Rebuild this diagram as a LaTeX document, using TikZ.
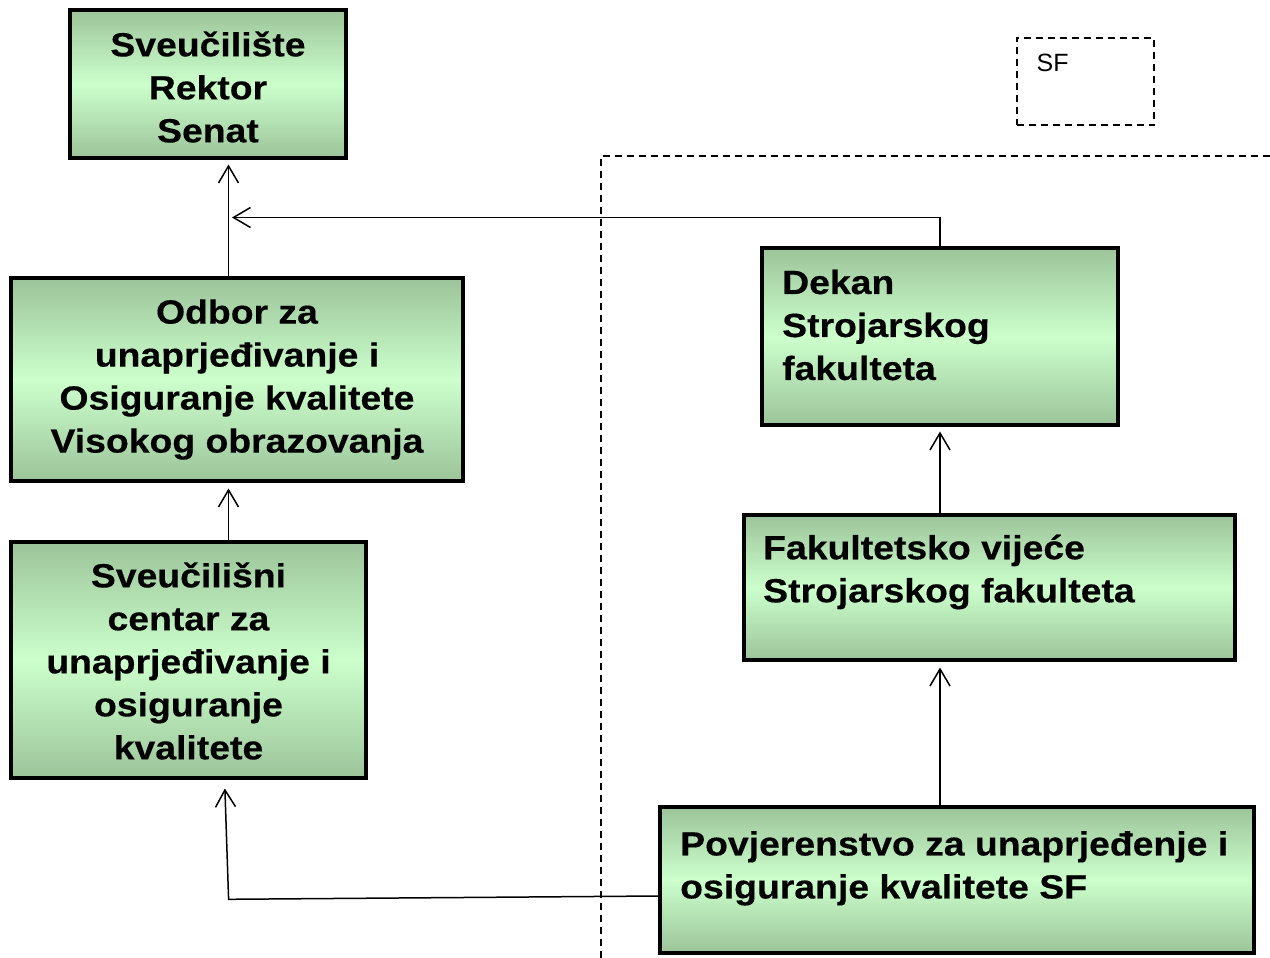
\documentclass[tikz,border=0pt]{standalone}
\usepackage{fontspec}
\newfontfamily\boxfont{Liberation Sans}[FakeStretch=1.115,FakeBold=0.4]
\newfontfamily\sffont{Liberation Sans}
\usetikzlibrary{arrows.meta,calc}
\definecolor{gdark}{HTML}{9CC49A}
\definecolor{glight}{HTML}{CCFFCC}
\begin{document}
\begin{tikzpicture}[x=1pt,y=-1pt,
  box/.style={draw=black, line width=4pt, top color=gdark, bottom color=gdark, middle color=glight,
    inner sep=0pt, align=center, font=\boxfont\bfseries\fontsize{33.5}{43}\selectfont},
  lbl/.style={inner sep=0pt, anchor=north west, align=left, font=\boxfont\bfseries\fontsize{33.5}{43}\selectfont},
  conn/.style={line width=1.5pt, -{Straight Barb[length=17pt,width=20pt]}, shorten >=4.5pt},
  dashline/.style={line width=1.8pt, dash pattern=on 7pt off 5pt}]
\useasboundingbox (0,0) rectangle (1270,958);

% boxes
\node[box, minimum width=276pt, minimum height=148pt] (sveu) at (208,84) {\rule{0pt}{31pt}Sveučilište\\Rektor\\Senat};
\node[box, minimum width=452pt, minimum height=203pt] (odbor) at (237,379.5) {Odbor za\\unaprjeđivanje i\\Osiguranje kvalitete\\Visokog obrazovanja};
\node[box, minimum width=355pt, minimum height=236pt] (centar) at (188.5,660) {\rule{0pt}{27pt}Sveučilišni\\centar za\\unaprjeđivanje i\\osiguranje\\kvalitete};
\node[box, minimum width=356pt, minimum height=177pt] (dekan) at (940,336.5) {};
\node[lbl] (dekanT) at (782,269.5) {Dekan\\Strojarskog\\fakulteta};
\node[box, minimum width=491pt, minimum height=145pt] (fak) at (989.5,587.5) {};
\node[lbl] (fakT) at (763,534.5) {Fakultetsko vijeće\\Strojarskog fakulteta};
\node[box, minimum width=594pt, minimum height=146pt] (povj) at (957,880) {};
\node[lbl] (povjT) at (680,831) {Povjerenstvo za unaprjeđenje i\\osiguranje kvalitete SF};

% dashed
\node[draw, dashline, minimum width=137.5pt, minimum height=87.5pt, inner sep=0pt] (sfbox) at (1085.5,81.5) {};
\node[inner sep=0pt, anchor=north west, font=\sffont\fontsize{25}{30}\selectfont] (sf) at (1036.4,54) {SF};
\draw[dashline] (601,958) -- (601,156) -- (1270,156);

% connectors
\coordinate (bendB) at (940,217.5);
\coordinate (jB) at (228.5,217.5);
\coordinate (bendF) at (228.6,899.3);
\draw[conn] (odbor.north -| 228.5,0) -- (sveu.south -| 228.5,0);
\draw[conn, shorten >=3.5pt] (dekan.north) -- (bendB) -- (jB);
\draw[conn, shorten >=5.5pt] (centar.north -| 228.5,0) -- (odbor.south -| 228.5,0);
\draw[conn] (fak.north -| dekan.north) -- (dekan.south);
\draw[conn, shorten >=5.5pt] (povj.north -| dekan.north) -- (fak.south -| dekan.north);
\draw[conn, shorten >=8.5pt] ($(povj.west)+(0,16)$) -- (bendF) -- (centar.south -| 224.6,0);
\end{tikzpicture}
\end{document}
